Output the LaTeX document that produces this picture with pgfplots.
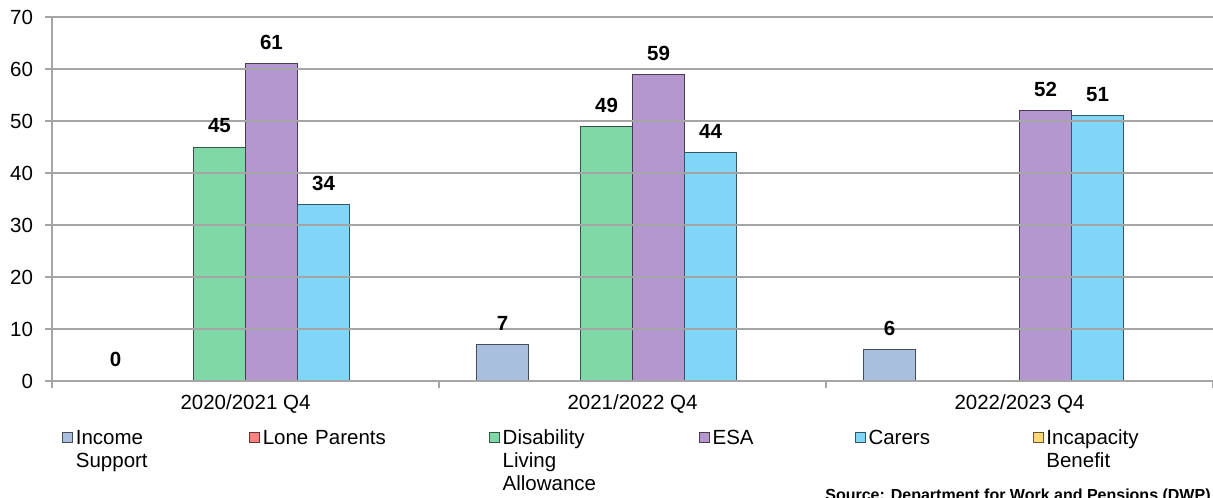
\documentclass[border=0pt]{standalone}
\usepackage{fontspec}
\setmainfont{Liberation Sans}
\usepackage{pgfplots}
\pgfplotsset{compat=1.18}

\definecolor{isc}{RGB}{168,192,222}
\definecolor{lpc}{RGB}{255,128,128}
\definecolor{dlac}{RGB}{128,216,168}
\definecolor{esac}{RGB}{180,151,206}
\definecolor{carc}{RGB}{128,214,246}
\definecolor{ibc}{RGB}{255,216,120}
\definecolor{gridc}{RGB}{165,165,165}

\pgfplotsset{
  sqlegend/.style={legend image code/.code={
    \draw[##1, line width=0.5pt] (0pt,1pt) rectangle (5pt,6pt);
    \path (6.5pt,0pt);}},
}

\begin{document}
\begin{tikzpicture}
\begin{axis}[
  name=ax,
  scale only axis, width=580.5pt, height=182pt,
  xmin=-0.5, xmax=2.5, ymin=0, ymax=70,
  ytick={0,10,...,70},
  xtick={0,1,2},
  xticklabels={2020/2021 Q4, 2021/2022 Q4, 2022/2023 Q4},
  minor xtick={-0.5,0.5,1.5,2.5},
  ymajorgrids, grid style={gridc, line width=0.6pt},
  axis lines*=left, axis line style={gridc, line width=0.7pt},
  tick align=outside, tick pos=left,
  major tick length=3.5pt, minor tick length=3.5pt,
  major x tick style={draw=none},
  minor x tick style={gridc, line width=0.7pt},
  ytick style={gridc, line width=0.7pt},
  /pgf/number format/assume math mode=true,
  ticklabel style={font=\fontsize{10.25}{12}\selectfont},
  yticklabel style={xshift=-2.5pt},
  ybar=0pt, bar width=26pt,
  axis on top,
  sqlegend,
  nodes near coords,
  every node near coord/.append style={font=\fontsize{10.25}{12}\selectfont\bfseries, anchor=base, yshift=7pt, inner sep=0pt},
  legend columns=6,
  legend style={draw=none, fill=none, inner sep=0pt, outer sep=0pt,
    at={(axis description cs:0,0)}, anchor=north west, xshift=5pt, yshift=-24.5pt,
    column sep=0pt, row sep=0pt,
    nodes={inner sep=0pt, anchor=base west, align=left, font=\fontsize{10.25}{11.5}\selectfont}},
  legend cell align=left,
]
\addplot[sqlegend, fill=isc, draw=isc!40!black, bar shift=-65pt] coordinates {(0,0) (1,7) (2,6)};
\addlegendentry[text width=86.5pt]{Income\newline Support}
\addlegendimage{sqlegend, fill=lpc, draw=lpc!40!black}
\addlegendentry[text width=113pt]{Lone Parents}
\addplot[sqlegend, fill=dlac, draw=dlac!40!black, bar shift=-13pt] coordinates {(0,45) (1,49)};
\addlegendentry[text width=98pt]{Disability\newline Living\newline Allowance}
\addplot[sqlegend, fill=esac, draw=esac!40!black, bar shift=13pt] coordinates {(0,61) (1,59) (2,52)};
\addlegendentry[text width=71pt]{ESA}
\addplot[sqlegend, fill=carc, draw=carc!40!black, bar shift=39pt] coordinates {(0,34) (1,44) (2,51)};
\addlegendentry[text width=82pt]{Carers}
\addlegendimage{sqlegend, fill=ibc, draw=ibc!40!black}
\addlegendentry[text width=60pt]{Incapacity\newline Benefit}
\end{axis}
\node[anchor=north east, inner sep=0pt, font=\fontsize{8}{9.6}\selectfont\bfseries]
  at ([shift={(-1pt,-54pt)}]ax.south east) {Source: Department for Work and Pensions (DWP)};
\pgfresetboundingbox
\path[use as bounding box] ([shift={(-26pt,-58pt)}]ax.south west) rectangle ([shift={(0pt,8.5pt)}]ax.north east);
\end{tikzpicture}
\end{document}
